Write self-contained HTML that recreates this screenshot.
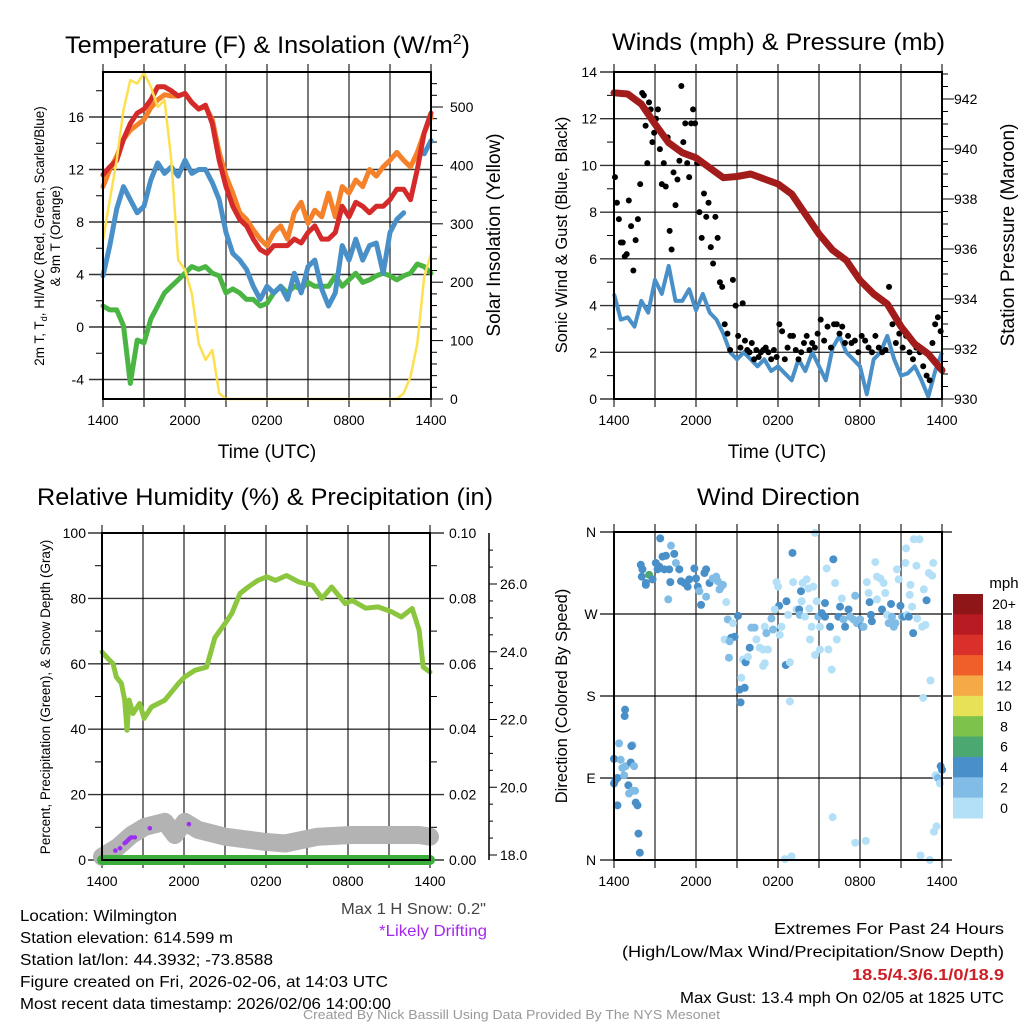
<!DOCTYPE html>
<html><head><meta charset="utf-8"><style>
html,body{margin:0;padding:0;background:#fff;}
svg{display:block;font-family:"Liberation Sans",sans-serif;}
</style></head><body>
<svg id="root" xmlns="http://www.w3.org/2000/svg" width="1024" height="1024" viewBox="0 0 1024 1024">
<rect width="1024" height="1024" fill="#fff"/>
<g id="content"></g>
<g id="texts" fill="#000">
 <text x="65" y="53" font-size="24" textLength="405" lengthAdjust="spacingAndGlyphs">Temperature (F) &amp; Insolation (W/m<tspan dy="-9" font-size="15">2</tspan><tspan dy="9">)</tspan></text>
 <text x="612" y="50" font-size="24" textLength="333" lengthAdjust="spacingAndGlyphs">Winds (mph) &amp; Pressure (mb)</text>
 <text x="37" y="505" font-size="24" textLength="456" lengthAdjust="spacingAndGlyphs">Relative Humidity (%) &amp; Precipitation (in)</text>
 <text x="697" y="505" font-size="24" textLength="163" lengthAdjust="spacingAndGlyphs">Wind Direction</text>
 <text transform="translate(44,236) rotate(-90)" font-size="13.5" text-anchor="middle">2m T, T<tspan dy="3" font-size="9">d</tspan><tspan dy="-3">, HI/WC (Red, Green, Scarlet/Blue)</tspan></text>
 <text transform="translate(60,236) rotate(-90)" font-size="13.5" text-anchor="middle">&amp; 9m T (Orange)</text>
 <text transform="translate(500,235) rotate(-90)" font-size="19" text-anchor="middle">Solar Insolation (Yellow)</text>
 <text x="267" y="458" font-size="19" text-anchor="middle">Time (UTC)</text>
 <text transform="translate(567,235) rotate(-90)" font-size="16.5" text-anchor="middle">Sonic Wind &amp; Gust (Blue, Black)</text>
 <text transform="translate(1014,235) rotate(-90)" font-size="19" text-anchor="middle">Station Pressure (Maroon)</text>
 <text x="777" y="458" font-size="19" text-anchor="middle">Time (UTC)</text>
 <text transform="translate(50,697) rotate(-90)" font-size="13.5" text-anchor="middle">Percent, Precipitation (Green), &amp; Snow Depth (Gray)</text>
 <text transform="translate(567,696) rotate(-90)" font-size="16.5" text-anchor="middle">Direction (Colored By Speed)</text>
 <text x="1004" y="588" font-size="15" text-anchor="middle">mph</text>
 <text x="341" y="914" font-size="16" textLength="145" lengthAdjust="spacingAndGlyphs" fill="#444">Max 1 H Snow: 0.2"</text>
 <text x="379" y="936" font-size="16" textLength="108" lengthAdjust="spacingAndGlyphs" fill="#a626f0">*Likely Drifting</text>
 <text x="20" y="921" font-size="16" textLength="157" lengthAdjust="spacingAndGlyphs">Location: Wilmington</text>
 <text x="20" y="943" font-size="16" textLength="213" lengthAdjust="spacingAndGlyphs">Station elevation: 614.599 m</text>
 <text x="20" y="965" font-size="16" textLength="253" lengthAdjust="spacingAndGlyphs">Station lat/lon: 44.3932; -73.8588</text>
 <text x="20" y="987" font-size="16" textLength="368" lengthAdjust="spacingAndGlyphs">Figure created on Fri, 2026-02-06, at 14:03 UTC</text>
 <text x="20" y="1009" font-size="16" textLength="371" lengthAdjust="spacingAndGlyphs">Most recent data timestamp: 2026/02/06 14:00:00</text>
 <text x="774" y="934" font-size="16" textLength="230" lengthAdjust="spacingAndGlyphs">Extremes For Past 24 Hours</text>
 <text x="622" y="957" font-size="16" textLength="382" lengthAdjust="spacingAndGlyphs">(High/Low/Max Wind/Precipitation/Snow Depth)</text>
 <text x="852" y="980" font-size="16" textLength="152" lengthAdjust="spacingAndGlyphs" fill="#cc1f27" font-weight="bold">18.5/4.3/6.1/0/18.9</text>
 <text x="680" y="1003" font-size="16" textLength="324" lengthAdjust="spacingAndGlyphs">Max Gust: 13.4 mph On 02/05 at 1825 UTC</text>
 <text x="303" y="1019" font-size="13" textLength="417" lengthAdjust="spacingAndGlyphs" fill="#999">Created By Nick Bassill Using Data Provided By The NYS Mesonet</text>
</g>
</svg>
<script>
// ---------- DATA ----------
const xTickLabels = ["1400","2000","0200","0800","1400"];
const halfHours = [0,0.5,1,1.5,2,2.5,3,3.5,4,4.5,5,5.5,6,6.5,7,7.5,8,8.5,9,9.5,10,10.5,11,11.5,12,12.5,13,13.5,14,14.5,15,15.5,16,16.5,17,17.5,18,18.5,19,19.5,20,20.5,21,21.5,22,22.5,23,23.5,24];
const temp2m = [11.6,12.2,12.7,14.3,15.5,16.3,16.6,17.3,18.3,18.3,18,17.6,17.8,17.1,16.6,16.9,15.5,12.7,10.7,9.2,8.2,7.7,6.7,5.9,5.6,6.2,6.2,6.2,6.7,6.4,7.2,7.7,6.7,6.7,7.2,9.2,8.4,9.5,9.2,8.7,9.2,9.2,9.7,10.5,10.5,9.7,12,14.8,16.3];
const temp9m = [10.7,12,13,14.3,15,15.4,15.8,16.7,17.3,17.7,17.6,17.6,17.8,17.1,16.6,16.8,15.8,13.3,11.5,10.2,8.7,8.2,7.4,6.7,6.2,7.2,7.7,6.7,8.7,9.5,7.9,8.9,8.4,10.2,8.4,10.7,10.2,11.2,10.7,12,11.5,12.2,12.7,13.3,12.7,12.2,13.3,14.8,16];
const windChill = [3.9,6.2,9,10.7,9.7,8.7,9.2,11.2,12.5,11.7,12.2,11.5,12.7,11.7,12,12,11,9.7,7.2,5.6,5.1,4.4,3.1,2.1,3.1,2.6,3.1,2.1,4.1,2.6,4.6,5.1,2.9,1.6,2.6,6.2,5.1,6.7,5.1,6.2,6.4,4.1,7.2,8.2,8.7,null,null,13.2,14.2];
const dewpoint = [1.6,1.3,1.3,0.1,-4.3,-1,-1.2,0.6,1.6,2.6,3.1,3.6,4.1,4.6,4.4,4.6,4.1,3.9,2.6,2.9,2.6,2.1,2.1,1.6,1.8,2.6,3.1,2.6,3.1,2.9,3.4,3.1,3.1,3.1,3.9,3.1,3.6,4.1,3.4,3.6,3.9,4.1,3.9,3.6,3.9,4.1,4.8,4.6,4.1];
const insolation = [272,341,409,495,546,540,558,535,500,512,409,238,221,181,95,67,84,10,0,0,0,0,0,0,0,0,0,0,0,0,0,0,0,0,0,0,0,0,0,0,0,0,0,0,10,38,95,209,249];
const tempTicks = [-4,0,4,8,12,16];
const insolTicks = [0,100,200,300,400,500];

const hours = [0,1,2,3,4,5,6,7,8,9,10,11,12,13,14,15,16,17,18,19,20,21,22,23,24];
const pressure = [942.25,942.2,941.8,941.0,940.25,939.85,939.65,939.25,938.85,938.9,939.0,938.8,938.6,938.2,937.4,936.6,935.95,935.55,934.75,934.2,933.8,932.9,932.2,931.8,931.15];
const sonicWind = [4.5,3.4,3.5,3.1,4.2,3.7,5.1,4.5,5.7,4.2,4.2,4.7,3.8,4.5,3.7,3.4,2.8,2.0,1.7,2.0,1.7,1.4,1.7,1.2,1.4,1.1,0.8,1.7,1.2,2.0,1.4,0.8,2.2,2.7,2.0,1.7,1.4,0.2,1.7,2.0,2.7,1.7,1.0,1.1,1.4,0.8,0.1,1.2,2.0];
const gustByHour = [[9.5,8.4,7.7,6.7,6.7,6.1,6.2],[8.5,7.4,5.5,6.8,7.7,9.2],[13.1,13,11.7,10.1,12.7,12.4,11,11.4],[12,12.4,10.7,9.2,10.1,9.1,11.2],[7.2,6.4,9.7,8.3,9.4,10.2,13.4],[11,11.8,10.1,9.5,11.8,12.4,11.8],[10.1,8,6.9,8.8,7.8,8.4],[6.5,5.8,7.8,6.9,5,4.8],[3.2,2.8,2.1,5.1,4],[2.7,2.2,4.1,2.5,2.1,2.0],[2.4,1.7,2.1,1.8,2.0,2.1],[2.2,2.0,1.7,2.1,1.8],[3.2,2.9,1.7,2.2,2.7],[2.7,2.1,1.7,2.0,2.4],[2.7,2.1,2.4,2.2,2.8],[3.4,2.5,3.1,2.2],[3.2,3.2,2.8,3.1,2.4],[2.7,2.4,2.5,2.0],[2.7,2.5,2.2,2.0],[2.7,2.2,2.0,2.1],[4.8,3.2,2.4,2.8],[2.2,2.7,2.0,1.7],[2.2,2.0,1.4,1.0],[0.8,2.4,3.2,3.5,2.9]];
const windTicks = [0,2,4,6,8,10,12,14];
const pressureTicks = [930,932,934,936,938,940,942];

const rhHours = [0,0.44,0.81,1.05,1.42,1.66,1.83,1.98,2.27,2.76,3.08,3.62,4.6,5.6,6.06,6.8,7.65,8.26,9.0,9.5,10.1,10.7,11.4,12.06,12.7,13.5,14.4,15.4,16.1,16.8,17.8,18.3,19.3,20.2,21.2,21.9,22.7,23.2,23.5,24];
const rhValues = [63.6,61.6,60,56,54,48.9,39.7,48.9,44.8,47.9,43.3,46.8,48.9,54,56,58,59,68,72.3,75.4,81.5,83.5,85.5,86.6,85.5,87,85,84,80,83.5,78.4,79.4,77,77.4,75.9,74.3,76.9,70.3,59,57.5];
const snowHours = [0,1.17,2.15,3.13,4.6,5.33,6.06,7.04,9,11.9,13.4,15.8,18.3,23.2,24];
const snowDepth = [17.95,18.24,18.59,18.83,18.98,18.59,18.98,18.74,18.54,18.39,18.34,18.54,18.59,18.59,18.54];
const driftHours = [0.98,1.32,1.66,1.78,1.91,2.03,2.15,2.4,3.5,6.36];
const driftDepth = [18.13,18.2,18.35,18.39,18.44,18.49,18.52,18.52,18.79,18.91];
const precipHours = [0,24];
const precipValues = [0,0];
const rhTicks = [0,20,40,60,80,100];
const precipTicks = ["0.00","0.02","0.04","0.06","0.08","0.10"];
const snowTicks = ["18.0","20.0","22.0","24.0","26.0"];

const dirHours = [0,0.12,0.25,0,0.37,0.49,0.61,0.86,0.74,1.35,1.27,1.23,1.47,0.81,0.78,1.05,1.1,1.35,1.54,1.59,1.72,0.25,1.79,1.89,
1.96,2.08,2.33,2.57,2.82,3.06,3.31,3.38,3.55,3.8,4.17,4.41,4.04,4.12,4.53,4.78,4.9,5.15,5.39,5.51,5.88,6.0,6.13,6.25,6.37,6.62,6.74,6.74,6.99,7.23,7.48,7.6,7.72,7.84,7.97,8.21,3.97,2.03,2.33,3.19,3.68,
8.33,8.7,9.07,8.09,8.58,8.82,8.46,8.41,9.44,9.63,9.8,9.31,9.19,9.56,9.26,10.05,10.29,11.03,11.15,9.93,10.42,10.66,10.91,11.27,11.03,10.91,
11.64,11.52,11.89,12.01,12.25,12.13,12.08,11.76,12.62,12.75,12.57,12.87,12.87,13.06,13.11,13.36,13.55,13.6,13.73,13.8,13.68,13.97,14.09,14.22,14.29,14.46,14.34,14.58,14.71,14.83,14.95,15.07,15.07,15.2,15.44,15.44,15.69,15.56,15.81,15.93,16.05,16.18,16.3,16.42,16.54,16.67,16.79,16.91,17.16,17.28,17.52,17.65,17.77,18.01,18.14,18.26,18.5,18.63,18.7,18.8,18.87,19.12,19.24,19.24,19.49,19.61,19.73,19.85,19.98,20.1,20.27,20.34,20.47,20.59,20.71,20.83,20.96,21.08,21.2,21.32,21.37,21.45,21.57,21.64,21.69,21.81,21.89,21.94,22.13,22.18,22.35,22.55,22.62,22.67,22.79,22.87,23.04,23.16,23.28,23.36,
12.5,12.99,14.71,16.0,17.65,18.43,22.43,23.11,23.41,23.6,23.53,23.7,23.85,23.9,24.0];
const dirDegrees = [84,88,90,111,128,110,101,103,93,126,125,107,103,165,158,82,73,76,76,63,60,60,29,8,
324,319,304,313,308,326,322,353,333,334,345,336,319,305,326,319,306,304,300,308,320,309,300,295,280,315,319,289,304,309,311,306,297,300,302,283,286,311,302,319,319,
264,260,268,242,244,245,240,222,220,217,223,200,187,189,173,255,255,256,249,233,242,233,231,231,216,213,
253,265,305,300,256,247,279,275,284,269,214,217,174,337,305,275,275,269,284,304,295,267,308,298,276,256,242,300,225,284,267,231,256,271,282,267,231,320,256,209,330,304,242,267,278,287,264,256,275,267,264,290,260,264,256,256,305,293,283,269,262,327,286,311,309,275,304,293,269,260,281,267,256,260,319,308,279,267,267,326,342,269,267,291,302,278,249,352,323,265,352,256,178,297,258,285,315,197,312,326,
1,4,359,47,19,21,5,0,31,37,93,90,84,103,99];
const dirSpeeds = [4,4,4,4,2,2,2,2,2,2,4,4,2,4,4,4,2,2,2,4,4,4,4,4,
4,4,4,6,4,4,4,4,4,4,2,4,4,4,2,4,4,4,4,4,4,4,4,2,4,4,4,2,4,2,2,2,2,2,2,0,2,4,4,4,4,
2,0,4,0,4,4,2,2,0,4,0,0,4,4,4,2,2,0,2,4,0,0,0,0,0,0,
2,2,0,0,0,0,4,0,4,0,4,0,0,4,0,0,4,2,0,0,4,0,0,0,0,0,0,0,0,0,2,0,0,4,4,4,0,0,4,0,4,0,0,4,4,0,2,4,4,2,2,2,2,2,4,2,0,0,4,4,4,0,0,0,0,4,0,0,0,2,4,2,2,2,0,0,4,2,4,0,0,0,4,0,0,0,4,0,0,0,0,0,0,0,0,4,0,0,0,0,
0,0,0,0,0,0,0,0,0,0,0,2,0,4,4];
const dirTickLabels = ["N","E","S","W","N"];
const speedBinLabels = ["20+","18","16","14","12","10","8","6","4","2","0"];
const speedBinColors = ["#8e1518","#b81b22","#d9302a","#ee5f2a","#f5a947","#e6e157","#7dc24a","#4aa870","#4a90c8","#80bce6","#b3e0f7"];

// ---------- HELPERS ----------
const NS = "http://www.w3.org/2000/svg";
const root = document.getElementById("content");
function mk(tag, attrs, parent) {
  const e = document.createElementNS(NS, tag);
  for (const k in attrs) e.setAttribute(k, attrs[k]);
  (parent || root).appendChild(e);
  return e;
}
function txt(s, x, y, size, anchor, parent) {
  const t = mk("text", {x: x, y: y, "font-size": size, "text-anchor": anchor || "middle"}, parent);
  t.textContent = s;
  return t;
}
function linear(d0, d1, r0, r1) { return v => r0 + (v - d0) / (d1 - d0) * (r1 - r0); }
function pathFrom(xs, ys, fx, fy) {
  let d = "", pen = false;
  for (let i = 0; i < xs.length; i++) {
    if (ys[i] === null || ys[i] === undefined) { pen = false; continue; }
    d += (pen ? "L" : "M") + fx(xs[i]).toFixed(1) + "," + fy(ys[i]).toFixed(1);
    pen = true;
  }
  return d;
}
function panelFrame(P, name) {
  const g = mk("g", {});
  
  
  for (let h = 0; h <= 24; h += 3) {
    const x = P.fx(h);
    mk("line", {x1: x, y1: P.y0 - 8, x2: x, y2: P.y1 + 8, stroke: "#000", "stroke-width": 1.4, "stroke-opacity": 0.75}, g);
  }
  const lg = mk("g", {});
  
  
  xTickLabels.forEach((s, i) => { txt(s, P.fx(i * 6), P.y1 + 26, 14, "middle", lg); });
  return g;
}
function frameBox(P, name) {
  const r = mk("rect", {x: P.x0, y: P.y0, width: P.x1 - P.x0, height: P.y1 - P.y0, fill: "none", stroke: "#000", "stroke-width": 2});
  
  
}

// ---------- PANEL 1: Temperature ----------
{
  const P = {x0: 103, x1: 431, y0: 72, y1: 399};
  P.fx = linear(0, 24, P.x0, P.x1);
  const fy = linear(0, 16, 327, 117);
  const fi = linear(0, 500, 399, 107);
  const grid = panelFrame(P, "temperature");
  tempTicks.forEach(v => { mk("line", {x1: P.x0 - 14, y1: fy(v), x2: P.x1, y2: fy(v), stroke: "#000", "stroke-width": 1.4, "stroke-opacity": 0.8}, grid); });
  const ax = mk("g", {});
  
  
  for (let v = -4; v <= 18; v += 2) if (v % 4 !== 0) mk("line", {x1: P.x0 - 7, y1: fy(v), x2: P.x0, y2: fy(v), stroke: "#000", "stroke-width": 1}, ax);
  tempTicks.forEach(v => txt(String(v), 84, fy(v) + 5, 14, "end", ax));
  const ax2 = mk("g", {});
  
  
  for (let v = 0; v <= 550; v += 20) mk("line", {x1: P.x1, y1: fi(v), x2: P.x1 + (v % 100 === 0 ? 12 : 6), y2: fi(v), stroke: "#000", "stroke-width": 1}, ax2);
  insolTicks.forEach(v => txt(String(v), 450, fi(v) + 5, 14, "start", ax2));

  const series = [
    ["dewpoint-line", dewpoint, "#4bb543", 5, fy],
    ["wind-chill-line", windChill, "#4a90c8", 5, fy],
    ["temp-9m-line", temp9m, "#f5822a", 5, fy],
    ["temp-2m-line", temp2m, "#d42a2a", 5, fy],
    ["insolation-line", insolation, "#fde050", 2.5, fi]
  ];
  series.forEach(s => {
    const p = mk("path", {d: pathFrom(halfHours, s[1], P.fx, s[4]), fill: "none", stroke: s[2], "stroke-width": s[3], "stroke-linejoin": "round", "stroke-linecap": "round"});
    
    
  });
  frameBox(P, "temperature");
}

// ---------- PANEL 2: Winds ----------
{
  const P = {x0: 614, x1: 942, y0: 72, y1: 399};
  P.fx = linear(0, 24, P.x0, P.x1);
  const fw = linear(0, 14, 399, 72);
  const fp = linear(930, 942, 399, 99);
  const grid = panelFrame(P, "winds");
  windTicks.forEach(v => { mk("line", {x1: P.x0 - 14, y1: fw(v), x2: P.x1, y2: fw(v), stroke: "#000", "stroke-width": 1.4, "stroke-opacity": 0.8}, grid); });
  const ax = mk("g", {});
  
  
  for (let v = 1; v < 14; v += 2) mk("line", {x1: P.x0 - 7, y1: fw(v), x2: P.x0, y2: fw(v), stroke: "#000", "stroke-width": 1}, ax);
  windTicks.forEach(v => txt(String(v), 597, fw(v) + 5, 14, "end", ax));
  const ax2 = mk("g", {});
  
  
  for (let v = 930; v <= 943.2; v += 0.5) mk("line", {x1: P.x1, y1: fp(v), x2: P.x1 + (Math.abs(v % 2) < 0.01 ? 12 : 6), y2: fp(v), stroke: "#000", "stroke-width": 1}, ax2);
  pressureTicks.forEach(v => txt(String(v), 954, fp(v) + 5, 14, "start", ax2));

  const wl = mk("path", {d: pathFrom(halfHours, sonicWind, P.fx, fw), fill: "none", stroke: "#4a90c8", "stroke-width": 4, "stroke-linejoin": "round"});
  
  
  const gg = mk("g", {fill: "#000"});
  
  
  gustByHour.forEach((arr, h) => {
    arr.forEach((v, i) => {
      const c = mk("circle", {cx: P.fx(h + (i + 0.5) / arr.length), cy: fw(v), r: 3}, gg);
      
      
    });
  });
  const pl = mk("path", {d: pathFrom(hours, pressure, P.fx, fp), fill: "none", stroke: "#a31c1c", "stroke-width": 7, "stroke-linejoin": "round", "stroke-linecap": "round"});
  
  
  frameBox(P, "winds");
}

// ---------- PANEL 3: Humidity ----------
{
  const P = {x0: 102, x1: 430, y0: 533, y1: 860};
  P.fx = linear(0, 24, P.x0, P.x1);
  const fr = linear(0, 100, 860, 533);
  const fs = linear(18, 26, 855, 584);
  const grid = panelFrame(P, "humidity");
  rhTicks.forEach(v => { mk("line", {x1: P.x0 - 14, y1: fr(v), x2: P.x1 + 14, y2: fr(v), stroke: "#000", "stroke-width": 1.4, "stroke-opacity": 0.8}, grid); });
  const ax = mk("g", {});
  
  
  for (let v = 10; v < 100; v += 20) mk("line", {x1: P.x0 - 7, y1: fr(v), x2: P.x0, y2: fr(v), stroke: "#000", "stroke-width": 1}, ax);
  rhTicks.forEach(v => txt(String(v), 86, fr(v) + 5, 14, "end", ax));
  const ax2 = mk("g", {});
  
  
  for (let v = 10; v < 100; v += 20) mk("line", {x1: P.x1, y1: fr(v), x2: P.x1 + 7, y2: fr(v), stroke: "#000", "stroke-width": 1}, ax2);
  precipTicks.forEach((s, i) => txt(s, 449, fr(i * 20) + 5, 14, "start", ax2));
  const ax3 = mk("g", {});
  
  
  mk("line", {x1: 489, y1: 533, x2: 489, y2: 860, stroke: "#000", "stroke-width": 1.5}, ax3);
  for (let v = 18; v <= 27.4; v += 0.5) mk("line", {x1: 489, y1: fs(v), x2: 489 + (Math.abs(v % 2) < 0.01 ? 8 : 4), y2: fs(v), stroke: "#000", "stroke-width": 1}, ax3);
  snowTicks.forEach(s => txt(s, 500, fs(parseFloat(s)) + 5, 14, "start", ax3));

  const sl = mk("path", {d: pathFrom(snowHours, snowDepth, P.fx, fs), fill: "none", stroke: "#b3b3b3", "stroke-width": 18, "stroke-linejoin": "round", "stroke-linecap": "round"});
  
  
  const dg = mk("g", {fill: "#9b30f0"});
  
  
  driftHours.forEach((h, i) => {
    const c = mk("circle", {cx: P.fx(h), cy: fs(driftDepth[i]), r: 2.3}, dg);
    
    
  });
  const fpr = linear(0, 0.1, 860, 533);
  const prl = mk("path", {d: pathFrom(precipHours, precipValues, P.fx, fpr), fill: "none", stroke: "#3cae3c", "stroke-width": 10, "stroke-linecap": "round"});
  
  
  const rl = mk("path", {d: pathFrom(rhHours, rhValues, P.fx, fr), fill: "none", stroke: "#8cc63f", "stroke-width": 5, "stroke-linejoin": "round", "stroke-linecap": "round"});
  
  
  frameBox(P, "humidity");
}

// ---------- PANEL 4: Wind Direction ----------
{
  const P = {x0: 614, x1: 942, y0: 532, y1: 860};
  P.fx = linear(0, 24, P.x0, P.x1);
  const fd = linear(0, 360, 860, 532);
  const grid = panelFrame(P, "direction");
  dirTickLabels.forEach((s, i) => { mk("line", {x1: P.x0 - 14, y1: fd(i * 90), x2: P.x1 + 10, y2: fd(i * 90), stroke: "#000", "stroke-width": 1.4, "stroke-opacity": 0.8}, grid); });
  const ax = mk("g", {});
  
  
  dirTickLabels.forEach((s, i) => txt(s, 591, fd(i * 90) + 5, 14, "middle", ax));
  const pg = mk("g", {});
  
  
  dirHours.forEach((h, i) => {
    const bin = Math.min(10, Math.floor(dirSpeeds[i] / 2));
    const c = mk("circle", {cx: P.fx(h), cy: fd(dirDegrees[i]), r: 4, fill: speedBinColors[10 - bin]}, pg);
    
    
  });
  frameBox(P, "direction");
  const cb = mk("g", {});
  
  
  const bh = 224 / speedBinLabels.length;
  speedBinLabels.forEach((s, i) => {
    const r = mk("rect", {x: 953, y: 594 + i * bh, width: 30, height: bh + 0.5, fill: speedBinColors[i]}, cb);
    
    
    txt(s, 1004, 594 + i * bh + bh / 2 + 5, 14, "middle", cb);
  });
}
</script>
</body></html>
